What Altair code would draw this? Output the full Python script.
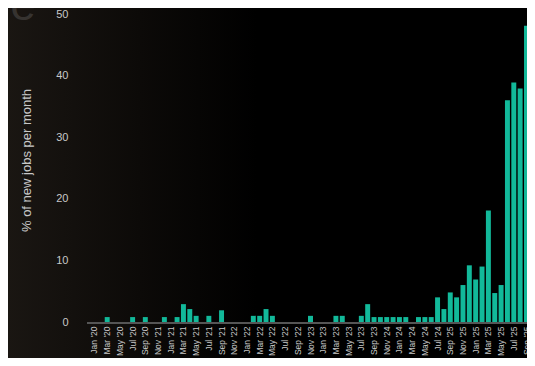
import altair as alt
import pandas as pd

# month index 0 = Jan 2020 ... 68 = Sep 2025
values = [
    0, 0, 0.8, 0, 0, 0, 0.8, 0, 0.8, 0, 0, 0.8,          # 2020
    0, 0.8, 2.9, 2.1, 1.0, 0, 1.0, 0, 1.9, 0, 0, 0,      # 2021
    0, 1.0, 1.0, 2.1, 1.0, 0, 0, 0, 0, 0, 1.0, 0,        # 2022
    0, 0, 1.0, 1.0, 0, 0, 1.0, 2.9, 0.8, 0.8, 0.8, 0.8,  # 2023
    0.8, 0.8, 0, 0.8, 0.8, 0.8, 4.0, 2.1, 4.8, 4.0, 6.0, 9.2,  # 2024
    6.9, 9.0, 18.1, 4.7, 6.0, 36.0, 38.9, 37.9, 48.1,    # 2025
]

# tick labels exactly as printed on the reference (every second month)
tick_index = list(range(0, 69, 2))
tick_labels = [
    "Jan '20", "Mar '20", "May '20", "Jul '20", "Sep '20", "Nov '21",
    "Jan '21", "Mar '21", "May '21", "Jul '21", "Sep '21", "Nov '22",
    "Jan '22", "Mar '22", "May '22", "Jul '22", "Sep '22", "Nov '23",
    "Jan '23", "Mar '23", "May '23", "Jul '23", "Sep '23", "Nov '24",
    "Jan '24", "Mar '24", "May '24", "Jul '24", "Sep '25", "Nov '25",
    "Jan '25", "Mar '25", "May '25", "Jul '25", "Sep '25",
]

y_ticks = [0, 10, 20, 30, 40, 50]

df = pd.DataFrame({"i": list(range(len(values))), "v": values})
label_map = {str(k): l for k, l in zip(tick_index, tick_labels)}
label_expr = "{" + ",".join(f"'{k}':\"{v}\"" for k, v in label_map.items()) + "}[datum.value] || ''"

TXT = "#c8c8c8"
FONT = "Liberation Sans"

bg = alt.Chart(pd.DataFrame({"a": [0]})).mark_rect(
    color=alt.Gradient(
        gradient="linear", x1=0, x2=1, y1=0, y2=0,
        stops=[alt.GradientStop(color="#1b1713", offset=0),
               alt.GradientStop(color="#0c0a08", offset=0.55),
               alt.GradientStop(color="#000000", offset=1)],
    )
).encode(x=alt.value(-90), x2=alt.value(170), y=alt.value(-20), y2=alt.value(360))

deco = alt.Chart(pd.DataFrame({"t": ["le"]})).mark_text(
    align="left", baseline="alphabetic", fontSize=46, font=FONT, color="#363330"
).encode(text="t:N", x=alt.value(-87), y=alt.value(6))

baseline = alt.Chart(pd.DataFrame({"a": [0]})).mark_rule(
    color="#555555", strokeWidth=2
).encode(x=alt.value(0), x2=alt.value(470), y=alt.value(309))

bars = alt.Chart(df).mark_bar(color="#12b99a").encode(
    x=alt.X(
        "i:O",
        sort=None,
        scale=alt.Scale(range=[0, 447], paddingInner=0.22, paddingOuter=0.79),
        axis=alt.Axis(
            title=None, values=tick_index, labelExpr=label_expr,
            labelAngle=-90, labelFontSize=8.5, labelColor=TXT, labelFont=FONT,
            labelPadding=4, ticks=False, tickSize=0, domain=False, zindex=1,
        ),
    ),
    y=alt.Y(
        "v:Q",
        scale=alt.Scale(domain=[0, 50], nice=False),
        axis=alt.Axis(
            title="% of new jobs per month", values=y_ticks,
            labelFontSize=11, labelColor=TXT, labelFont=FONT,
            labelPadding=19, ticks=False, tickSize=0, domain=False, grid=False,
            titleFontSize=13, titleFontWeight="normal", titleColor=TXT,
            titleFont=FONT, titleX=-61, titleY=146,
            titleAngle=-90, titleAlign="center", titleBaseline="middle", zindex=1,
        ),
    ),
)

chart = alt.layer(bg, deco, baseline, bars).properties(
    width=440, height=308,
    autosize=alt.AutoSizeParams(type="none"),
    padding={"left": 79, "top": 6, "right": 0, "bottom": 36},
    background="#000000",
).configure_view(stroke=None)

chart.save("out.html", embed_options={"renderer": "svg", "actions": False})
